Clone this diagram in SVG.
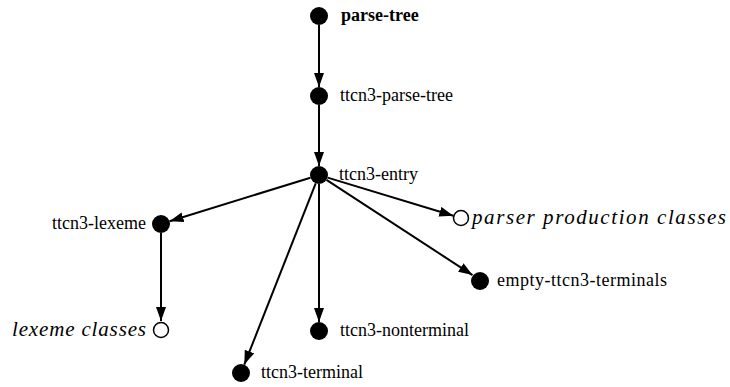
<svg xmlns="http://www.w3.org/2000/svg" width="730" height="387" viewBox="0 0 730 387">
  <style>
    text { font-family: 'Liberation Serif', 'Times New Roman', Times, serif; font-size: 18px; fill: #000; }
    .bold { font-weight: bold; }
    .ital { font-style: italic; font-size: 21px; }
    .dot { fill: #000; }
    .ring { fill: #fff; stroke: #000; stroke-width: 1.5; }
    .edge { stroke: #000; stroke-width: 2; fill: none; marker-end: url(#arrow); }
  </style>
  <defs>
    <marker id="arrow" markerUnits="userSpaceOnUse" markerWidth="15" markerHeight="11" refX="14" refY="5" orient="auto">
      <path d="M0,0 L14,5 L0,10 z" fill="#000"/>
    </marker>
  </defs>
  <rect width="730" height="387" fill="#fff"/>

  <g id="edges">
    <line class="edge" x1="319" y1="25" x2="319" y2="87"/>
    <line class="edge" x1="319" y1="105" x2="319" y2="166"/>
    <line class="edge" x1="310.4" y1="177.7" x2="169.6" y2="221.3"/>
    <line class="edge" x1="327.6" y1="177.6" x2="453.3" y2="215.7"/>
    <line class="edge" x1="326.5" y1="179.9" x2="472.5" y2="275.1"/>
    <line class="edge" x1="319" y1="184" x2="319" y2="322"/>
    <line class="edge" x1="315.7" y1="183.4" x2="244.3" y2="364.6"/>
    <line class="edge" x1="161" y1="233" x2="161" y2="321"/>
  </g>

  <g id="parse-tree">
    <circle class="dot" cx="319" cy="16" r="9"/>
    <text class="bold" x="341" y="21">parse-tree</text>
  </g>
  <g id="ttcn3-parse-tree">
    <circle class="dot" cx="319" cy="96" r="9"/>
    <text x="340" y="101">ttcn3-parse-tree</text>
  </g>
  <g id="ttcn3-entry">
    <circle class="dot" cx="319" cy="175" r="9"/>
    <text x="339" y="180">ttcn3-entry</text>
  </g>
  <g id="ttcn3-lexeme">
    <circle class="dot" cx="161" cy="224" r="9"/>
    <text x="146" y="229" text-anchor="end">ttcn3-lexeme</text>
  </g>
  <g id="parser-production-classes">
    <circle class="ring" cx="461" cy="218" r="7.5"/>
    <text class="ital" x="472" y="224" textLength="254" lengthAdjust="spacing">parser production classes</text>
  </g>
  <g id="empty-ttcn3-terminals">
    <circle class="dot" cx="480" cy="281" r="9"/>
    <text x="497" y="286" textLength="170" lengthAdjust="spacing">empty-ttcn3-terminals</text>
  </g>
  <g id="lexeme-classes">
    <circle class="ring" cx="161" cy="330" r="7.5"/>
    <text class="ital" x="12" y="336" textLength="134" lengthAdjust="spacing">lexeme classes</text>
  </g>
  <g id="ttcn3-nonterminal">
    <circle class="dot" cx="319" cy="331" r="9"/>
    <text x="340" y="336">ttcn3-nonterminal</text>
  </g>
  <g id="ttcn3-terminal">
    <circle class="dot" cx="241" cy="373" r="9"/>
    <text x="261" y="378">ttcn3-terminal</text>
  </g>
</svg>
